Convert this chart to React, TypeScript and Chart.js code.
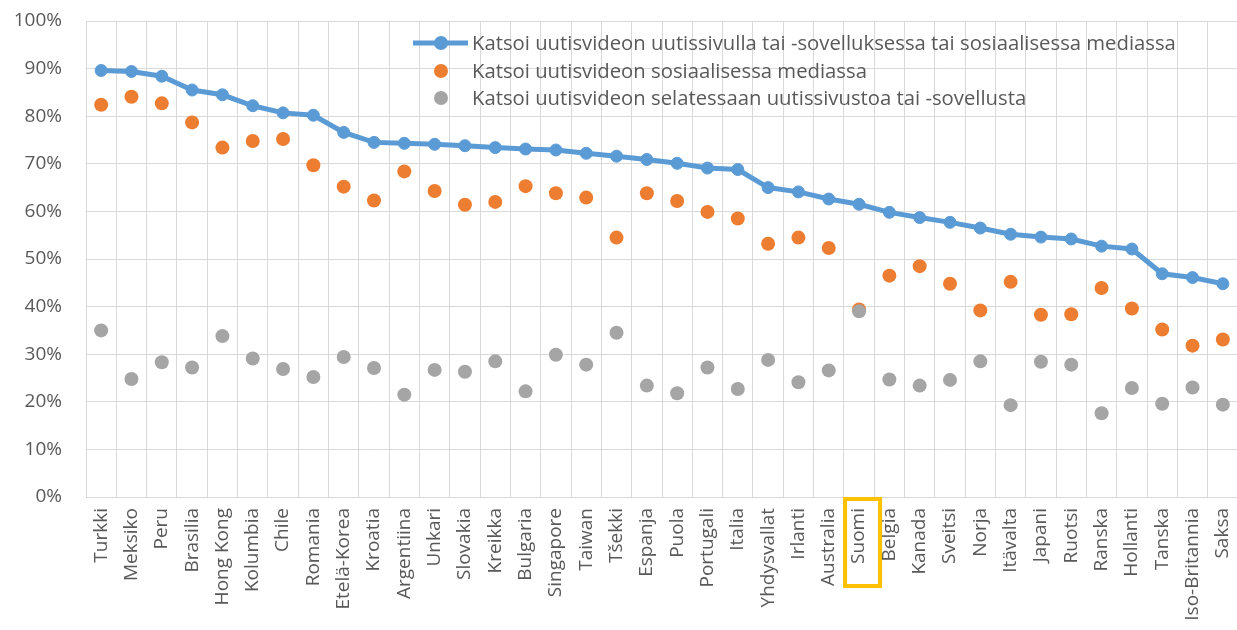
import React, { useEffect, useRef } from "react";
import { Chart, registerables } from "chart.js";

Chart.register(...registerables);

const categories = [
  "Turkki", "Meksiko", "Peru", "Brasilia", "Hong Kong", "Kolumbia", "Chile", "Romania",
  "Etelä-Korea", "Kroatia", "Argentiina", "Unkari", "Slovakia", "Kreikka", "Bulgaria",
  "Singapore", "Taiwan", "Tšekki", "Espanja", "Puola", "Portugali", "Italia", "Yhdysvallat",
  "Irlanti", "Australia", "Suomi", "Belgia", "Kanada", "Sveitsi", "Norja", "Itävalta",
  "Japani", "Ruotsi", "Ranska", "Hollanti", "Tanska", "Iso-Britannia", "Saksa",
];

const totalValues = [
  89.6, 89.4, 88.4, 85.5, 84.5, 82.2, 80.7, 80.2, 76.6, 74.5, 74.3, 74.1, 73.8, 73.4, 73.1,
  72.9, 72.2, 71.6, 70.9, 70.1, 69.1, 68.8, 65.0, 64.1, 62.6, 61.5, 59.8, 58.7, 57.7, 56.5,
  55.2, 54.6, 54.2, 52.7, 52.1, 46.9, 46.1, 44.8,
];

const socialValues = [
  82.4, 84.1, 82.7, 78.7, 73.4, 74.8, 75.2, 69.7, 65.2, 62.3, 68.4, 64.3, 61.4, 62.0, 65.3,
  63.8, 62.9, 54.5, 63.8, 62.2, 59.9, 58.5, 53.2, 54.5, 52.3, 39.4, 46.5, 48.5, 44.8, 39.2,
  45.2, 38.3, 38.4, 43.9, 39.6, 35.2, 31.8, 33.1,
];

const siteValues = [
  35.0, 24.8, 28.3, 27.2, 33.8, 29.1, 26.9, 25.2, 29.4, 27.1, 21.5, 26.7, 26.3, 28.5, 22.2,
  29.9, 27.8, 34.5, 23.4, 21.8, 27.2, 22.7, 28.8, 24.1, 26.6, 39.0, 24.7, 23.4, 24.6, 28.5,
  19.3, 28.4, 27.8, 17.6, 22.9, 19.6, 23.0, 19.4,
];

const yTicks = [0, 10, 20, 30, 40, 50, 60, 70, 80, 90, 100];

const seriesLabels = [
  "Katsoi uutisvideon uutissivulla tai -sovelluksessa tai sosiaalisessa mediassa",
  "Katsoi uutisvideon sosiaalisessa mediassa",
  "Katsoi uutisvideon selatessaan uutissivustoa tai -sovellusta",
];

const highlighted = "Suomi";

const BLUE = "#5B9BD5";
const ORANGE = "#ED7D31";
const GRAY = "#A5A5A5";
const GRID = "#D9D9D9";
const TEXT = "#595959";
const FONT = "'Open Sans', sans-serif";

const legendPlugin = {
  id: "insideLegend",
  afterDraw(chart: any) {
    const ctx = chart.ctx;
    ctx.save();
    const x0 = 413;
    const rows = [43, 71, 98];
    ctx.font = `20.3px ${FONT}`;
    ctx.fillStyle = TEXT;
    ctx.textBaseline = "middle";
    ctx.textAlign = "left";
    chart.data.datasets.forEach((ds: any, i: number) => {
      const y = rows[i];
      if (ds.showLine !== false) {
        ctx.strokeStyle = ds.borderColor;
        ctx.lineWidth = 5;
        ctx.beginPath();
        ctx.moveTo(x0, y);
        ctx.lineTo(x0 + 55, y);
        ctx.stroke();
      }
      ctx.fillStyle = ds.pointBackgroundColor;
      ctx.beginPath();
      ctx.arc(x0 + 28, y, 7, 0, Math.PI * 2);
      ctx.fill();
      ctx.fillStyle = TEXT;
      ctx.fillText(ds.label, x0 + 59, y + 1);
    });
    ctx.restore();
  },
};

const highlightPlugin = {
  id: "highlightBox",
  afterDraw(chart: any) {
    const idx = (chart.data.labels as string[]).indexOf(highlighted);
    if (idx < 0) return;
    const xs = chart.scales.x;
    const cx = xs.getPixelForValue(idx) + 3;
    const top = chart.chartArea.bottom + 2;
    const ctx = chart.ctx;
    ctx.save();
    ctx.strokeStyle = "#FFC000";
    ctx.lineWidth = 4;
    ctx.strokeRect(cx - 17, top, 35, 87);
    ctx.restore();
  },
};

export default function App() {
  const ref = useRef<HTMLCanvasElement>(null);

  useEffect(() => {
    document.body.style.margin = "0";
    const canvas = ref.current!;
    const chart = new Chart(canvas, {
      type: "line",
      data: {
        labels: categories,
        datasets: [
          {
            label: seriesLabels[0],
            data: totalValues,
            borderColor: BLUE,
            backgroundColor: BLUE,
            pointBackgroundColor: BLUE,
            pointBorderColor: BLUE,
            borderWidth: 5,
            pointRadius: 6,
            pointBorderWidth: 1,
            tension: 0,
            order: 2,
          },
          {
            label: seriesLabels[1],
            data: socialValues,
            showLine: false,
            borderColor: ORANGE,
            backgroundColor: ORANGE,
            pointBackgroundColor: ORANGE,
            pointBorderColor: ORANGE,
            pointRadius: 7,
            pointBorderWidth: 0,
            order: 1,
          },
          {
            label: seriesLabels[2],
            data: siteValues,
            showLine: false,
            borderColor: GRAY,
            backgroundColor: GRAY,
            pointBackgroundColor: GRAY,
            pointBorderColor: GRAY,
            pointRadius: 7,
            pointBorderWidth: 0,
            order: 0,
          },
        ],
      },
      options: {
        responsive: false,
        animation: false,
        layout: { padding: { top: 21, left: 0, right: 0, bottom: 0 } },
        plugins: {
          legend: { display: false },
          tooltip: { enabled: false },
        },
        scales: {
          x: {
            type: "category",
            offset: true,
            grid: { offset: true, color: GRID, lineWidth: 1, drawTicks: false },
            border: { color: GRID },
            ticks: {
              autoSkip: false,
              maxRotation: 90,
              minRotation: 90,
              padding: 11,
              color: TEXT,
              font: { family: FONT, size: 19 },
            },
            afterFit: (scale: any) => {
              scale.height = 133;
              scale.paddingLeft = 0;
              scale.paddingRight = 0;
            },
          },
          y: {
            min: 0,
            max: 100,
            afterBuildTicks: (scale: any) => {
              scale.ticks = yTicks.map((v) => ({ value: v }));
            },
            grid: { color: GRID, lineWidth: 1, drawTicks: false },
            border: { color: GRID },
            ticks: {
              padding: 24,
              color: TEXT,
              font: { family: FONT, size: 19 },
              callback: (v: any) => `${v}%`,
            },
            afterFit: (scale: any) => {
              scale.width = 86;
              scale.paddingTop = 0;
              scale.paddingBottom = 0;
            },
          },
        },
      },
      plugins: [legendPlugin, highlightPlugin],
    });
    return () => chart.destroy();
  }, []);

  return (
    <div
      style={{
        position: "fixed",
        left: 0,
        top: 0,
        width: 1237,
        height: 630,
        overflow: "hidden",
        background: "#fff",
      }}
    >
      <canvas ref={ref} width={1245} height={630} style={{ display: "block" }} />
    </div>
  );
}
